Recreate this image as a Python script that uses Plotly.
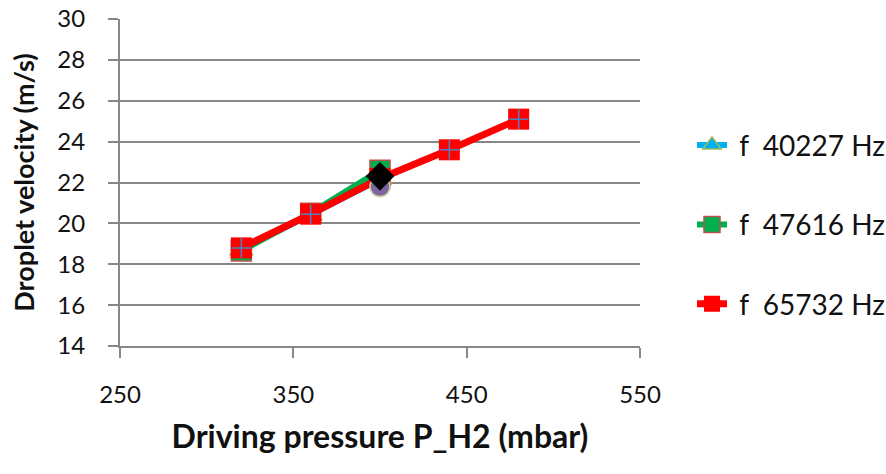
import plotly.graph_objects as go

# Data
x_40227 = [320, 360, 400]
y_40227 = [18.7, 20.4, 22.15]

x_47616 = [320, 360, 400]
y_47616 = [18.65, 20.5, 22.6]

x_65732 = [320, 360, 400, 440, 480]
y_65732 = [18.8, 20.45, 22.2, 23.6, 25.1]

x_s4 = [400]
y_s4 = [21.8]

x_s5 = [400]
y_s5 = [22.3]

names = ["\u00a0f\u00a0\u00a040227\u00a0Hz",
         "\u00a0f\u00a0\u00a047616\u00a0Hz",
         "\u00a0f\u00a0\u00a065732\u00a0Hz"]

FONT = "Lato"
fig = go.Figure()

fig.add_trace(go.Scatter(
    x=x_40227, y=y_40227, name=names[0], mode="lines+markers", legendgroup="a",
    line=dict(color="#00b0f0", width=6),
    marker=dict(symbol="triangle-up", size=20, color="#00b0f0",
                line=dict(color="#9bbb59", width=1.5)),
))
fig.add_trace(go.Scatter(
    x=x_47616, y=y_47616, name=names[1], mode="lines+markers", legendgroup="b",
    line=dict(color="#00b050", width=6),
    marker=dict(symbol="square", size=20, color="#00b050",
                line=dict(color="#c0504d", width=1.5)),
))
fig.add_trace(go.Scatter(
    x=x_65732, y=y_65732, name=names[2], mode="lines+markers", legendgroup="c",
    line=dict(color="#ff0000", width=7),
    marker=dict(symbol="square", size=21, color="#ff0000",
                line=dict(color="#ff0000", width=0)),
))
fig.add_trace(go.Scatter(
    x=x_65732, y=y_65732, mode="markers", showlegend=False, legendgroup="c",
    marker=dict(symbol="cross-thin", size=14, color="#4f81bd",
                line=dict(color="#4f81bd", width=1.5)),
    hoverinfo="skip",
))
fig.add_trace(go.Scatter(
    x=x_s4, y=y_s4, mode="markers", showlegend=False,
    marker=dict(symbol="circle", size=20, color="#8064a2",
                line=dict(color="#c3d69b", width=1.5)),
))
fig.add_trace(go.Scatter(
    x=x_s5, y=y_s5, mode="markers", showlegend=False,
    marker=dict(symbol="diamond", size=22, color="#000000",
                line=dict(color="#000000", width=0)),
))

fig.update_layout(
    width=886, height=474,
    margin=dict(l=120, r=246, t=19, b=128, autoexpand=False),
    paper_bgcolor="white", plot_bgcolor="white",
    font=dict(family=FONT, size=24, color="#111111"),
    showlegend=True,
    legend=dict(
        x=1.10, xanchor="left", y=0.69, yanchor="top",
        font=dict(family=FONT, size=28, color="#111111"),
        tracegroupgap=40, bgcolor="rgba(0,0,0,0)",
        itemclick=False,
    ),
)

fig.update_xaxes(
    range=[250, 550], tick0=250, dtick=100, showgrid=False, zeroline=False,
    showline=True, linecolor="#888888", linewidth=2,
    ticks="outside", ticklen=10, tickcolor="#888888", tickwidth=2,
    ticklabelstandoff=16, automargin=False,
    tickfont=dict(family=FONT, size=24, color="#111111"),
    title=dict(text="<b>Driving pressure P_H2 (mbar)</b>", standoff=19,
               font=dict(family=FONT, size=32, color="#111111")),
)
fig.update_yaxes(
    range=[14, 30], tick0=14, dtick=2, showgrid=True, gridcolor="#888888",
    gridwidth=2, zeroline=False,
    showline=True, linecolor="#888888", linewidth=2,
    ticks="outside", ticklen=10, tickcolor="#888888", tickwidth=2,
    ticklabelstandoff=18, automargin=False,
    tickfont=dict(family=FONT, size=24, color="#111111"),
    title=dict(text="<b>Droplet velocity (m/s)</b>", standoff=15,
               font=dict(family=FONT, size=27, color="#111111")),
)

fig.write_html("out.html")
